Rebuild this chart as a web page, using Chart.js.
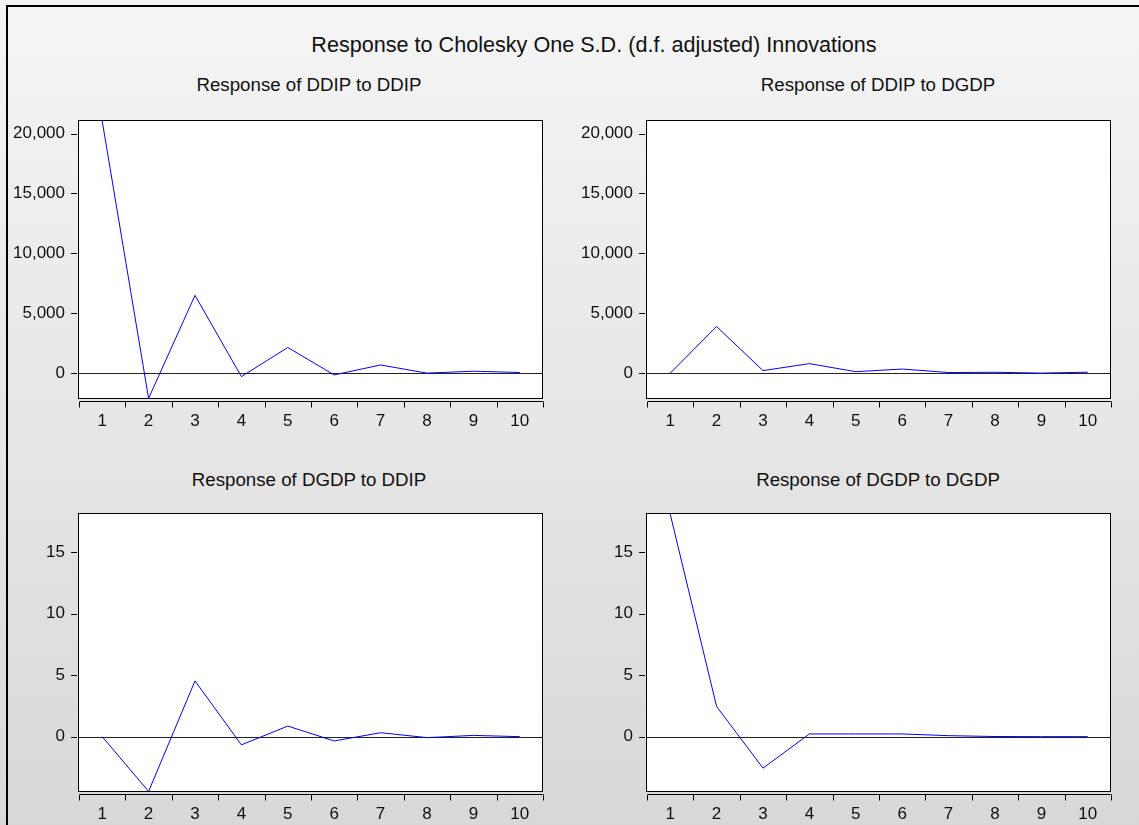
<!DOCTYPE html>
<html>
<head>
<meta charset="utf-8">
<script src="https://cdn.jsdelivr.net/npm/chart.js@4"></script>
<style>
  html, body { margin: 0; padding: 0; }
  body {
    width: 1139px; height: 825px; position: relative; overflow: hidden;
    background: linear-gradient(#f5f5f5, #d8d8d8);
    font-family: "Liberation Sans", Arial, sans-serif; color: #111;
  }
  #frame { position: absolute; left: 6px; top: 5px; right: 0; bottom: 0;
           border-left: 2px solid #000; border-top: 2px solid #000; }
  .txt { position: absolute; transform: translate(-50%, -50%); white-space: nowrap; }
  #title { left: 594px; top: 45px; font-size: 21.6px; }
  .sub { font-size: 18.7px; }
  canvas { position: absolute; }
</style>
</head>
<body>
<div id="frame"></div>
<div id="title" class="txt">Response to Cholesky One S.D. (d.f. adjusted) Innovations</div>
<div class="txt sub" style="left:309px; top:85px">Response of DDIP to DDIP</div>
<div class="txt sub" style="left:878px; top:85px">Response of DDIP to DGDP</div>
<div class="txt sub" style="left:309px; top:480px">Response of DGDP to DDIP</div>
<div class="txt sub" style="left:878px; top:480px">Response of DGDP to DGDP</div>

<canvas id="c1" width="560" height="340" style="left:0; top:100px"></canvas>
<canvas id="c2" width="560" height="340" style="left:568px; top:100px"></canvas>
<canvas id="c3" width="560" height="340" style="left:0; top:493px"></canvas>
<canvas id="c4" width="560" height="340" style="left:568px; top:493px"></canvas>

<script>
// periods after the shock
const periods = ['1', '2', '3', '4', '5', '6', '7', '8', '9', '10'];

// impulse responses
const ddipToDdip = [21050, -2100, 6500, -280, 2150, -140, 690, 10, 170, 60];
const ddipToDgdp = [0, 3900, 220, 800, 130, 350, 60, 80, 10, 90];
const dgdpToDdip = [0, -4.45, 4.53, -0.67, 0.86, -0.35, 0.32, -0.08, 0.1, 0.0];
const dgdpToDgdp = [18.1, 2.45, -2.56, 0.22, 0.22, 0.22, 0.08, 0.01, 0.0, 0.0];

// shared y ranges and tick values (top row / bottom row)
const ddipRange = [-2150, 21050];
const dgdpRange = [-4.5, 18.1];
const ddipTicks = [0, 5000, 10000, 15000, 20000];
const dgdpTicks = [0, 5, 10, 15];

const font = { family: '"Liberation Sans", Arial, sans-serif', size: 17 };

// EViews style white box, zero line and detached tick marks
const eviewsFrame = {
    id: 'eviewsFrame',
    beforeDraw(chart) {
        const { ctx, chartArea: a } = chart;
        ctx.save();
        ctx.fillStyle = '#fff';
        ctx.fillRect(a.left, a.top, a.right - a.left, a.bottom - a.top);
        ctx.restore();
    },
    beforeDatasetsDraw(chart) {
        const { ctx, chartArea: a, scales: { y } } = chart;
        const zero = Math.round(y.getPixelForValue(0)) + 0.5;
        ctx.save();
        ctx.strokeStyle = '#222';
        ctx.lineWidth = 1;
        ctx.beginPath();
        ctx.moveTo(a.left, zero);
        ctx.lineTo(a.right, zero);
        ctx.stroke();
        ctx.restore();
    },
    afterDraw(chart) {
        const { ctx, chartArea: a, scales: { x, y } } = chart;
        ctx.save();
        ctx.strokeStyle = '#000';
        ctx.lineWidth = 1;
        ctx.strokeRect(Math.round(a.left) - 0.5, Math.round(a.top) - 0.5,
                       Math.round(a.right - a.left), Math.round(a.bottom - a.top));

        ctx.beginPath();
        // y tick marks
        y.ticks.forEach(t => {
            const py = Math.round(y.getPixelForValue(t.value)) + 0.5;
            ctx.moveTo(a.left - 8, py);
            ctx.lineTo(a.left - 2, py);
        });
        // x axis line below the box, ticks between periods
        const half = (x.getPixelForValue(1) - x.getPixelForValue(0)) / 2;
        const ax = Math.round(a.bottom) + 2.5;
        ctx.moveTo(x.getPixelForValue(0) - half + 1, ax);
        ctx.lineTo(x.getPixelForValue(periods.length - 1) + half, ax);
        for (let i = 0; i <= periods.length; i++) {
            const px = Math.round(x.getPixelForValue(i) - half) + 0.5;
            ctx.moveTo(px, ax);
            ctx.lineTo(px, ax + 6);
        }
        ctx.stroke();
        ctx.restore();
    }
};

function makeChart(id, values, range, tickValues) {
    const ctx = document.getElementById(id).getContext('2d');
    return new Chart(ctx, {
        type: 'line',
        data: {
            labels: periods,
            datasets: [{
                data: values,
                borderColor: '#0000ff',
                borderWidth: 1,
                pointRadius: 0,
                tension: 0,
                fill: false
            }]
        },
        options: {
            responsive: false,
            animation: false,
            layout: { padding: { top: 21, right: 17, left: 0, bottom: 0 } },
            plugins: {
                legend: { display: false },
                tooltip: { enabled: false }
            },
            scales: {
                x: {
                    offset: true,
                    grid: { display: false, drawTicks: false },
                    border: { display: false },
                    ticks: { color: '#111', font: font, padding: 12, maxRotation: 0, autoSkip: false },
                    afterFit(s) { s.height = 41; }
                },
                y: {
                    min: range[0],
                    max: range[1],
                    grid: { display: false, drawTicks: true, tickLength: 11 },
                    border: { display: false },
                    afterBuildTicks(s) { s.ticks = tickValues.map(v => ({ value: v })); },
                    ticks: {
                        color: '#111',
                        font: font,
                        padding: 3,
                        callback: v => v.toLocaleString('en-US')
                    },
                    afterFit(s) { s.width = 79; }
                }
            }
        },
        plugins: [eviewsFrame]
    });
}

makeChart('c1', ddipToDdip, ddipRange, ddipTicks);
makeChart('c2', ddipToDgdp, ddipRange, ddipTicks);
makeChart('c3', dgdpToDdip, dgdpRange, dgdpTicks);
makeChart('c4', dgdpToDgdp, dgdpRange, dgdpTicks);
</script>
</body>
</html>
